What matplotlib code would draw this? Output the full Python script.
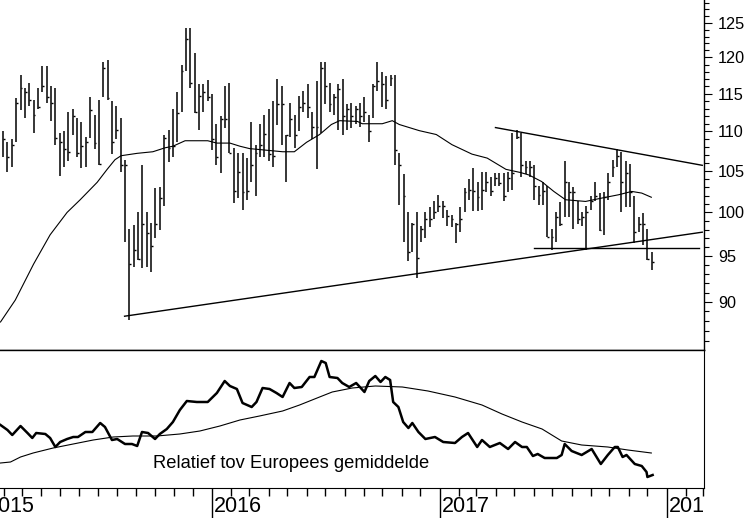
import numpy as np
import pandas as pd
import matplotlib
matplotlib.use('Agg')
import matplotlib.pyplot as plt
import matplotlib.dates as mdates
import matplotlib.transforms as mtransforms
from matplotlib.ticker import FixedLocator, NullFormatter, FuncFormatter, NullLocator

plt.rcParams['font.family'] = ['Liberation Sans', 'DejaVu Sans']

# weekly bars, first one on 30 Jan 2015
start = pd.Timestamp('2015-01-30')

high = [110.1, 108.7, 109.0, 114.4, 117.6, 115.8, 116.5, 114.1, 115.8, 118.8,
        118.8, 116.0, 115.8, 109.8, 110.0, 112.5, 112.9, 111.7, 111.2, 109.3,
        114.5, 112.1, 114.1, 119.3, 119.6, 114.0, 113.4, 111.7, 106.3, 98.1,
        98.5, 100.1, 105.8, 100.0, 98.8, 102.9, 103.0, 109.5, 110.2, 113.0,
        115.2, 119.0, 124.2, 124.2, 120.6, 116.3, 116.3, 116.8, 115.0, 110.9,
        112.0, 116.1, 116.5, 107.9, 107.2, 107.3, 106.6, 111.2, 108.3, 110.9,
        112.2, 112.9, 114.0, 117.0, 116.0, 109.6, 113.8, 112.2, 114.7, 115.3,
        116.3, 112.6, 116.7, 119.4, 119.4, 116.5, 115.0, 116.3, 117.0, 113.6,
        113.8, 113.4, 113.8, 114.6, 112.2, 116.3, 119.4, 117.9, 117.4, 117.6,
        117.6, 107.2, 104.6, 100.0, 98.8, 100.1, 98.4, 100.0, 100.6, 101.3,
        102.1, 101.3, 100.3, 99.7, 98.8, 100.6, 102.9, 104.0, 105.4, 103.7,
        104.9, 104.9, 104.3, 104.8, 104.8, 104.7, 104.9, 109.8, 110.2, 109.8,
        106.2, 106.2, 105.8, 103.1, 103.7, 103.2, 98.1, 100.1, 101.2, 106.2,
        103.7, 103.0, 101.3, 100.0, 100.7, 101.9, 103.7, 102.3, 102.4, 104.8,
        106.4, 107.7, 107.4, 106.2, 105.9, 101.9, 99.5, 99.9, 98.1, 95.4]

low = [106.7, 104.9, 105.5, 108.6, 112.8, 111.7, 113.3, 109.8, 113.0, 115.2,
       113.8, 111.4, 108.2, 104.4, 105.5, 106.2, 109.5, 106.7, 105.4, 105.5,
       109.2, 107.8, 105.7, 114.6, 114.1, 107.1, 109.0, 104.9, 96.6, 88.1,
       93.8, 94.6, 93.7, 93.8, 93.2, 97.0, 97.9, 100.7, 106.1, 106.8,
       108.7, 112.5, 118.1, 115.7, 112.4, 110.2, 112.5, 114.0, 107.6, 105.7,
       104.8, 110.4, 107.3, 101.1, 101.7, 100.3, 101.5, 103.6, 101.9, 106.8,
       106.8, 106.2, 105.5, 110.8, 108.2, 103.6, 109.3, 107.9, 110.0, 112.6,
       111.8, 109.0, 105.2, 109.8, 113.6, 112.5, 112.2, 110.2, 109.6, 110.2,
       110.5, 110.9, 110.6, 111.2, 108.7, 111.7, 115.3, 113.2, 112.9, 116.1,
       105.7, 100.9, 96.6, 94.4, 95.4, 92.6, 96.6, 97.0, 98.3, 99.2,
       100.1, 99.4, 98.4, 98.3, 96.5, 97.7, 100.0, 101.5, 100.2, 100.2,
       100.3, 102.4, 102.0, 103.1, 103.2, 101.3, 102.4, 102.7, 109.0, 104.2,
       104.6, 104.2, 101.5, 100.9, 100.9, 97.1, 95.7, 96.6, 98.4, 99.5,
       99.5, 98.1, 98.6, 98.4, 95.7, 100.3, 101.3, 97.8, 97.4, 101.5,
       104.2, 105.5, 100.0, 100.6, 100.6, 96.5, 97.7, 96.2, 94.5, 93.4]

close = [109.0, 106.7, 108.2, 113.8, 115.8, 115.2, 114.1, 112.1, 113.2, 116.0,
         114.5, 113.8, 109.1, 108.6, 107.7, 107.4, 112.0, 107.3, 108.1, 108.6,
         112.8, 108.5, 105.9, 118.5, 114.4, 108.6, 110.2, 105.8, 105.8, 94.1,
         95.7, 94.7, 98.7, 97.6, 96.1, 98.7, 101.7, 109.1, 107.9, 108.1,
         112.4, 118.1, 122.7, 116.5, 112.5, 114.7, 115.2, 114.6, 109.0, 106.8,
         111.6, 111.6, 107.3, 102.6, 104.9, 102.4, 102.5, 105.8, 107.3, 108.3,
         109.7, 107.1, 106.9, 113.6, 113.6, 109.5, 111.6, 109.6, 113.2, 113.8,
         113.2, 110.6, 110.6, 118.5, 116.1, 113.6, 114.6, 115.6, 112.0, 112.9,
         112.0, 112.9, 112.0, 112.6, 110.0, 116.0, 116.7, 116.3, 114.1, 117.2,
         107.6, 105.7, 101.9, 95.5, 98.6, 94.8, 98.1, 99.2, 99.2, 100.1,
         100.7, 100.7, 99.6, 99.2, 98.6, 99.2, 102.4, 102.7, 102.6, 101.8,
         102.7, 103.7, 102.5, 104.1, 103.5, 101.9, 104.1, 104.8, 109.3, 105.8,
         105.5, 105.5, 103.1, 102.1, 102.5, 97.1, 97.1, 99.5, 98.7, 103.6,
         102.4, 102.4, 99.2, 99.5, 100.1, 101.3, 101.9, 97.9, 101.8, 103.7,
         105.5, 106.9, 103.6, 104.8, 102.4, 97.7, 98.7, 98.7, 94.7, 94.3]

# moving average (weeks after first bar, value)
ma_wk = [-0.6, 2.8, 7, 10.8, 14.7, 17.7, 21.6, 23.9, 25.7, 27.1, 30.8, 34.4, 37.2,
         39, 41.8, 44.5, 47, 49.1, 52.1, 54.4, 56.6, 64.2, 66.9, 69.7, 72.7, 75.4,
         77.3, 81.4, 82.5, 87.1, 89.4, 91, 95.6, 99.5, 103.1, 107.7, 111.2, 115.5,
         118.9, 120.8, 123.7, 126.5, 129.2, 133.8, 137.5, 141.4, 144.4, 146.7, 148.9]
ma_val = [87.9, 90.2, 94.1, 97.4, 100.0, 101.5, 103.6, 105.2, 106.4, 106.9, 107.2,
          107.4, 107.9, 108.1, 108.8, 108.8, 108.8, 108.5, 108.5, 108.1, 107.8,
          107.4, 107.4, 108.6, 109.6, 110.9, 111.4, 111.3, 111.0, 111.0, 111.4,
          110.9, 110.1, 109.6, 108.3, 107.1, 106.6, 105.2, 104.8, 104.5, 103.7,
          102.5, 101.5, 101.3, 101.7, 102.1, 102.5, 102.3, 101.8]

# trend lines (week, value) pairs
support_wk, support_val = [27.9, 160.6], [88.5, 97.7]
resist_wk, resist_val = [113.1, 160.6], [110.5, 105.7]
floor_wk, floor_val = [121.9, 159.9], [95.9, 95.9]

# relative strength vs European average
rel_wk = [-0.6, 1.0, 2.1, 4.0, 5.6, 6.7, 7.6, 9.7, 10.8, 12.0, 13.1, 14.7, 16.1, 17.2,
          18.9, 20.5, 22.3, 23.4, 25.0, 26.2, 28.0, 29.6, 30.8, 31.9, 33.3, 34.9, 36.0,
          37.6, 39.0, 40.6, 42.2, 44.5, 47.0, 49.1, 50.9, 52.1, 53.7, 55.0, 57.1, 58.2,
          59.6, 61.2, 62.8, 64.2, 65.8, 66.9, 68.6, 70.4, 71.5, 73.1, 74.1, 75.0, 76.8,
          77.9, 79.5, 81.1, 83.0, 84.1, 85.5, 86.7, 87.8, 88.9, 89.6, 90.8, 91.9, 93.1,
          94.0, 95.4, 97.0, 99.2, 101.1, 103.8, 105.4, 106.8, 108.9, 110.0, 111.8, 114.1,
          116.0, 117.6, 119.2, 120.3, 121.7, 122.8, 124.4, 127.2, 128.3, 129.0, 130.6,
          132.9, 135.2, 137.3, 138.9, 140.5, 141.2, 142.3, 143.2, 145.1, 146.7, 147.8,
          148.0, 149.2]
rel_val = [87.5, 85, 82.5, 87, 83.5, 81, 83.5, 83, 81, 76.5, 79, 80.5, 81.5, 81.5, 84,
           84, 88.5, 86.5, 80, 80.5, 78, 78, 77, 84, 83.5, 80.5, 83, 85.5, 89, 95, 99.5,
           99, 99, 103.5, 109.5, 107, 105.5, 98.5, 96.5, 99, 106, 105.5, 103.5, 101.5,
           108.5, 106, 106.5, 111.5, 111.5, 119.5, 118.5, 111.5, 111, 108.5, 106.5, 108.5,
           104, 109.5, 112, 109, 111.5, 110, 99, 96.5, 89, 86, 88.5, 84, 80.5, 81.5, 79,
           78.5, 81.5, 83.5, 76.5, 80, 76.5, 78.5, 75.5, 79, 76.5, 76.5, 72, 73, 71, 71,
           72.5, 78, 74.5, 72.5, 75.5, 68, 72.5, 76.5, 76.5, 71.5, 72.5, 68, 67, 64,
           61.5, 62.5]
relma_wk = [-0.6, 1.7, 4.0, 6.9, 11.5, 16.1, 20.7, 25.3, 29.8, 35.3, 40.6, 45.2, 49.8,
            54.4, 58.9, 64.2, 68.1, 72.7, 75.6, 80.2, 85.5, 91.7, 97.6, 103.8, 110.0,
            114.6, 119.2, 123.8, 128.3, 132.9, 138.9, 143.5, 148.9]
relma_val = [68.5, 69, 71.5, 73.5, 76, 78, 80, 81.5, 82, 82, 83, 84.5, 87, 90, 92, 94.5,
             97.5, 101.5, 104, 106, 107, 106.5, 104.5, 101.5, 97.5, 93, 89, 85.5, 79.5,
             77.5, 76.5, 75, 73.5]

years = [2015, 2016, 2017, 2018]
price_ticks = [90, 95, 100, 105, 110, 115, 120, 125]


def wk(w):
    return mdates.date2num(start) + 7 * np.asarray(w, dtype=float)


x = mdates.date2num(pd.date_range(start, periods=len(high), freq='7D'))

fig = plt.figure(figsize=(7.52, 5.18), dpi=100)
ax = fig.add_axes([0, 168 / 518, 704 / 752, 350 / 518])
ax2 = fig.add_axes([0, 30 / 518, 704 / 752, 138 / 518], sharex=ax)
ax3 = fig.add_axes([0, 0, 704 / 752, 30 / 518], sharex=ax)

# price panel
ax.set_yscale('log')
ax.vlines(x, low, high, color='black', lw=1.1)
ax.hlines(close, x, x + 3, color='black', lw=1.0)
ax.plot(wk(ma_wk), ma_val, color='black', lw=0.8)
ax.plot(wk(support_wk), support_val, color='black', lw=1.0)
ax.plot(wk(resist_wk), resist_val, color='black', lw=1.0)
ax.plot(wk(floor_wk), floor_val, color='black', lw=1.0)

ax.set_ylim(85.05, 128.4)
ax.set_xlim(mdates.date2num(pd.Timestamp('2015-01-25')),
            mdates.date2num(pd.Timestamp('2018-03-02')))
ax.yaxis.tick_right()
ax.yaxis.set_major_locator(FixedLocator(price_ticks))
ax.yaxis.set_major_formatter(FuncFormatter(lambda v, p: f'{v:.0f}'))
ax.yaxis.set_minor_locator(FixedLocator(np.arange(85, 129)))
ax.yaxis.set_minor_formatter(NullFormatter())
ax.tick_params(axis='y', which='major', length=6, width=0.8, labelsize=11.7, pad=4)
ax.tick_params(axis='y', which='minor', length=3.6, width=0.8)
ax.tick_params(axis='x', which='both', bottom=False, labelbottom=False)
for s in ['top', 'left']:
    ax.spines[s].set_visible(False)
for s in ['right', 'bottom']:
    ax.spines[s].set_linewidth(1.0)
    ax.spines[s].set_color('black')

# relative strength panel
ax2.plot(wk(rel_wk), rel_val, color='black', lw=1.8)
ax2.plot(wk(relma_wk), relma_val, color='black', lw=0.8)
ax2.set_ylim(56, 125)
ax2.yaxis.set_major_locator(NullLocator())
ax2.yaxis.set_minor_locator(NullLocator())
ax2.spines['left'].set_visible(False)
ax2.spines['top'].set_linewidth(1.0)
ax2.xaxis.set_major_locator(mdates.YearLocator())
ax2.xaxis.set_minor_locator(mdates.MonthLocator())
ax2.tick_params(axis='x', which='major', direction='out', length=22, width=1.0,
                labelbottom=False)
ax2.tick_params(axis='x', which='minor', direction='out', length=5.5, width=1.0)
ax2.text(153 / 704, 25 / 138, 'Relatief tov Europees gemiddelde', transform=ax2.transAxes,
         fontsize=13.2, ha='left', va='center')

# year labels, clipped at the right edge like the original
ax3.axis('off')
blend = mtransforms.blended_transform_factory(ax3.transData, ax3.transAxes)
for yr in years:
    ax3.text(mdates.date2num(pd.Timestamp(f'{yr}-01-01')) + 3.5, 0.38, str(yr),
             transform=blend, fontsize=15.5, ha='left', va='center', clip_on=True)

fig.savefig('out.png', dpi=100)
